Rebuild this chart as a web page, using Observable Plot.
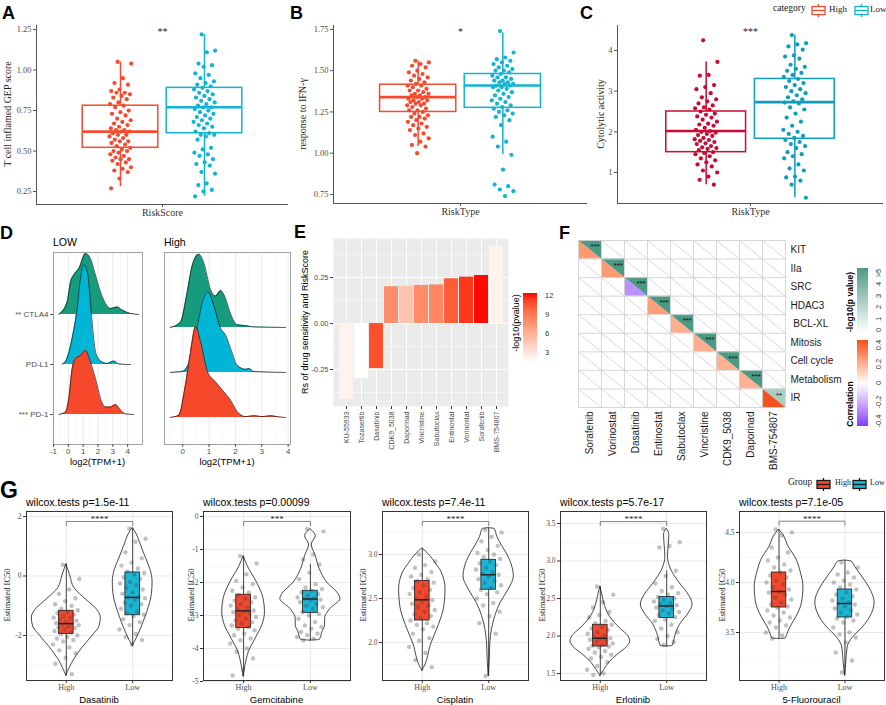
<!DOCTYPE html>
<html><head><meta charset="utf-8">
<script src="https://cdn.jsdelivr.net/npm/d3@7"></script>
<script src="https://cdn.jsdelivr.net/npm/@observablehq/plot@0.6"></script>
<style>
body{margin:0;background:#fff;}
#fig{position:relative;width:886px;height:705px;overflow:hidden;background:#fff;}
.t{position:absolute;white-space:nowrap;line-height:1;}
</style></head><body><div id="fig"></div>
<script>
const SERIF = "'Liberation Serif','Times New Roman',serif";
const SANS = "'Liberation Sans',Arial,Helvetica,sans-serif";

// ================= DATA =================
// Panels A–C : groups High / Low
const riskGroups = ["High", "Low"];
const gepHigh = [1.05,1.04,0.95,0.92,0.91,0.88,0.87,0.86,0.86,0.85,0.84,0.83,0.82,0.8,0.79,0.78,0.77,0.75,0.74,0.73,0.72,0.7,0.69,0.68,0.67,0.66,0.65,0.64,0.63,0.63,0.62,0.62,0.61,0.6,0.6,0.59,0.58,0.57,0.56,0.56,0.55,0.54,0.53,0.52,0.51,0.5,0.5,0.49,0.48,0.47,0.46,0.45,0.45,0.44,0.43,0.42,0.4,0.39,0.38,0.37,0.33,0.27];
const gepLow = [1.22,1.12,1.11,1.04,1.03,1.02,0.98,0.97,0.95,0.93,0.92,0.91,0.9,0.89,0.88,0.87,0.86,0.85,0.84,0.83,0.82,0.81,0.8,0.79,0.78,0.77,0.77,0.76,0.75,0.74,0.73,0.72,0.71,0.7,0.69,0.68,0.67,0.66,0.65,0.64,0.62,0.61,0.6,0.6,0.59,0.57,0.52,0.51,0.49,0.48,0.47,0.45,0.43,0.42,0.41,0.37,0.36,0.3,0.29,0.26,0.25,0.22];
const gepStats = [[0.28,0.52,0.62,0.78,1.05],[0.22,0.61,0.77,0.89,1.22]]; // lo,q1,med,q3,hi
const ifnHigh = [1.56,1.55,1.54,1.53,1.52,1.5,1.49,1.48,1.47,1.46,1.45,1.44,1.43,1.42,1.41,1.41,1.4,1.39,1.38,1.38,1.37,1.36,1.36,1.35,1.35,1.34,1.34,1.33,1.33,1.32,1.32,1.31,1.31,1.3,1.3,1.29,1.29,1.28,1.27,1.26,1.26,1.25,1.24,1.23,1.22,1.22,1.21,1.2,1.19,1.18,1.17,1.16,1.15,1.14,1.12,1.11,1.09,1.07,1.05,1.04,1.0];
const ifnLow = [1.74,1.61,1.58,1.57,1.56,1.55,1.54,1.53,1.52,1.51,1.5,1.5,1.49,1.48,1.47,1.46,1.46,1.45,1.44,1.44,1.43,1.43,1.42,1.42,1.41,1.41,1.4,1.4,1.39,1.38,1.37,1.36,1.35,1.34,1.33,1.32,1.31,1.3,1.29,1.28,1.27,1.26,1.25,1.24,1.23,1.22,1.2,1.17,1.1,1.07,1.04,0.99,0.9,0.81,0.8,0.78,0.77,0.74];
const ifnStats = [[1.04,1.25,1.34,1.415,1.56],[0.99,1.275,1.41,1.48,1.73]];
const cytHigh = [4.25,3.72,3.4,3.38,3.15,3.1,3.05,2.95,2.85,2.8,2.75,2.7,2.65,2.6,2.58,2.55,2.5,2.45,2.42,2.38,2.35,2.3,2.25,2.2,2.18,2.15,2.1,2.05,2.02,2.0,1.98,1.95,1.92,1.9,1.85,1.82,1.8,1.78,1.75,1.72,1.7,1.65,1.62,1.6,1.58,1.55,1.5,1.48,1.45,1.4,1.35,1.3,1.25,1.2,1.15,1.05,1.0,0.9,0.82,0.7];
const cytLow = [4.38,4.18,4.15,4.1,4.02,3.88,3.85,3.8,3.65,3.6,3.55,3.5,3.45,3.4,3.35,3.3,3.25,3.2,3.15,3.1,3.05,3.0,2.95,2.9,2.85,2.8,2.75,2.72,2.7,2.6,2.55,2.45,2.35,2.25,2.15,2.05,2.0,1.95,1.9,1.85,1.8,1.75,1.7,1.65,1.6,1.5,1.45,1.4,1.35,1.2,1.1,1.05,0.9,0.88,0.8,0.7,0.38];
const cytStats = [[0.7,1.5,2.02,2.5,3.72],[0.38,1.83,2.73,3.3,4.38]];
const gepTicks = [0.25,0.5,0.75,1,1.25];
const ifnTicks = [0.75,1,1.25,1.5,1.75];
const cytTicks = [1,2,3,4];

// Panel D : ridgelines  [log2(TPM+1), density]
const ridgeGenes = ["PD-1","PD-L1","CTLA4"];
const ridgeLabels = ["*** PD-1","PD-L1","** CTLA4"];
const lowCTLA4 = [[-0.64,0],[-0.08,0.25],[0.15,0.65],[0.37,0.79],[0.71,0.92],[1.16,1.22],[1.49,1.12],[1.83,0.79],[2.17,0.45],[2.51,0.22],[2.84,0.12],[3.29,0.15],[3.63,0.09],[4.19,0.02],[4.75,0]];
const lowPDL1 = [[-0.41,0],[-0.08,0.13],[0.26,0.53],[0.6,1.13],[0.82,1.73],[1.04,2.0],[1.31,1.8],[1.54,1.06],[1.83,0.26],[2.17,0.07],[2.62,0.02],[3.07,0.07],[3.4,0.01],[3.97,0],[4.2,0]];
const lowPD1 = [[-0.64,0],[-0.19,0.05],[0.03,0.32],[0.26,0.92],[0.48,1.12],[0.82,1.18],[1.16,1.28],[1.49,1.05],[1.83,0.72],[2.17,0.32],[2.51,0.15],[2.84,0.15],[3.18,0.2],[3.52,0.09],[3.85,0.01],[4.41,0]];
const highCTLA4 = [[-0.47,0],[-0.09,0.11],[0.17,0.78],[0.36,1.37],[0.61,1.63],[0.8,1.44],[1.06,0.84],[1.25,0.7],[1.44,0.82],[1.59,0.7],[1.82,0.3],[2.07,0.06],[2.39,0.04],[2.71,0.01],[3.9,0]];
const highPDL1 = [[-0.47,0],[-0.02,0.02],[0.3,0.31],[0.56,1.04],[0.75,1.57],[0.96,1.79],[1.18,1.49],[1.44,0.98],[1.63,0.83],[1.82,0.53],[2.07,0.16],[2.39,0.07],[2.51,0.09],[2.7,0.02],[3.9,0]];
const highPD1 = [[-0.47,0],[-0.15,0.05],[0.1,0.71],[0.3,1.46],[0.49,2.02],[0.68,1.68],[0.94,1.02],[1.25,0.79],[1.56,0.57],[1.82,0.38],[2.07,0.13],[2.39,0.02],[2.71,0.04],[3.02,0.02],[3.34,0.04],[3.66,0.01],[3.9,0]];
const ridgeTicksLow = [-1,0,1,2,3,4];
const ridgeTicksHigh = [0,1,2,3,4];

// Panel E : drug sensitivity correlation
const eDrugs = ["KU-55933","Tozasertib","Dasatinib","CDK9_5038","Daporinad","Vincristine","Sabutoclax","Entinostat","Vorinostat","Sorafenib","BMS-754807"];
const eRs = [-0.413,-0.30,-0.245,0.20,0.203,0.207,0.21,0.243,0.252,0.261,0.418];
const eLogP = [2.3,1.6,10.8,8.0,5.0,8.1,8.3,10.3,11.6,12.4,2.3];
const eTicks = [-0.25,0,0.25];
const eLegendTicks = [3,6,9,12];

// Panel F : pathway × drug
const fRows = ["KIT","IIa","SRC","HDAC3","\u00A0BCL-XL","Mitosis","Cell cycle","Metabolism","IR"];
const fCols = ["Sorafenib","Vorinostat","Dasatinib","Entinostat","Sabutoclax","Vincristine","CDK9_5038","Daporinad","BMS-754807"];
const fCor = [0.26,0.255,-0.245,0.245,0.21,0.205,0.2,0.2,0.418];
const fLogP = [5.5,5.5,5.5,5.5,5.5,5.5,5.5,5.5,2.4];
const fStars = ["***","***","***","***","***","***","***","***","**"];
const fPTicks = ["0","1","2","3","4",">5"];
const fCorTicks = [-0.4,-0.2,0,0.2,0.4];

// Panel G : estimated IC50
const icDrugs = ["Dasatinib","Gemcitabine","Cisplatin","Erlotinib","5-Fluorouracil"];
const icPvalues = ["1.5e-11","0.00099","7.4e-11","5.7e-17","7.1e-05"];
const icStars = ["****","***","****","****","****"];
const icBoxHigh = [[-3.35,-1.95,-1.6,-1.17,0.4],[-4.85,-3.38,-2.86,-2.37,-1.2],[1.68,2.25,2.485,2.7,3.07],[1.47,1.86,1.97,2.15,2.66],[3.44,3.75,3.91,4.1,4.53]];
const icBoxLow = [[-2.35,-1.32,-0.72,0.12,1.6],[-3.75,-2.92,-2.5,-2.25,-1.45],[1.62,2.6,2.77,2.94,3.3],[1.86,2.24,2.4,2.52,2.87],[3.07,3.65,3.79,3.93,4.22]];
const icVioHigh = [
  [[0.4,0],[0.2,0.03],[0,0.06],[-0.4,0.12],[-0.8,0.3],[-1.1,0.45],[-1.4,0.52],[-1.7,0.5],[-2.0,0.4],[-2.4,0.25],[-2.8,0.12],[-3.1,0.05],[-3.35,0]],
  [[-1.2,0],[-1.5,0.06],[-2.0,0.2],[-2.5,0.3],[-2.9,0.32],[-3.3,0.28],[-3.7,0.18],[-4.1,0.08],[-4.5,0.03],[-4.85,0]],
  [[3.07,0],[3.0,0.1],[2.9,0.2],[2.8,0.29],[2.6,0.35],[2.4,0.33],[2.2,0.25],[2.05,0.17],[1.95,0.12],[1.85,0.09],[1.75,0.05],[1.68,0]],
  [[2.66,0],[2.55,0.03],[2.4,0.07],[2.25,0.15],[2.1,0.3],[2.0,0.42],[1.93,0.45],[1.85,0.4],[1.75,0.26],[1.65,0.14],[1.55,0.06],[1.47,0]],
  [[4.53,0],[4.47,0.07],[4.35,0.15],[4.25,0.25],[4.1,0.33],[3.95,0.37],[3.8,0.35],[3.65,0.26],[3.55,0.17],[3.47,0.12],[3.44,0.1],[3.435,0]]
];
const icVioLow = [
  [[1.62,0],[1.4,0.06],[1.0,0.13],[0.6,0.2],[0.2,0.27],[-0.2,0.3],[-0.6,0.29],[-1.0,0.25],[-1.4,0.19],[-1.8,0.12],[-2.1,0.06],[-2.35,0]],
  [[-0.38,0],[-0.6,0.08],[-0.85,0.02],[-1.2,0.08],[-1.6,0.14],[-2.0,0.25],[-2.35,0.42],[-2.5,0.45],[-2.8,0.3],[-3.1,0.22],[-3.3,0.22],[-3.5,0.18],[-3.74,0.14],[-3.76,0]],
  [[3.3,0],[3.29,0.09],[3.2,0.13],[3.1,0.2],[3.0,0.28],[2.85,0.36],[2.75,0.38],[2.6,0.3],[2.45,0.18],[2.3,0.1],[2.15,0.05],[2.0,0.025],[1.8,0.015],[1.62,0]],
  [[3.43,0],[3.35,0.04],[3.2,0.03],[3.05,0.02],[2.9,0.06],[2.7,0.2],[2.55,0.33],[2.42,0.39],[2.3,0.33],[2.15,0.2],[2.0,0.13],[1.87,0.09],[1.86,0]],
  [[4.22,0],[4.21,0.1],[4.15,0.16],[4.05,0.27],[3.95,0.37],[3.8,0.45],[3.65,0.38],[3.55,0.27],[3.45,0.12],[3.35,0.04],[3.2,0.02],[3.07,0]]
];
const icPtsHigh = [
  [0.38,-0.1,-0.45,-0.6,-0.75,-0.85,-0.95,-1.0,-1.1,-1.15,-1.2,-1.25,-1.3,-1.35,-1.4,-1.42,-1.45,-1.5,-1.55,-1.58,-1.6,-1.62,-1.65,-1.7,-1.72,-1.75,-1.8,-1.85,-1.9,-1.95,-2.0,-2.05,-2.1,-2.15,-2.2,-2.3,-2.4,-2.5,-2.6,-2.75,-2.95,-3.3],
  [-1.2,-1.42,-1.75,-1.95,-2.05,-2.15,-2.25,-2.3,-2.38,-2.45,-2.5,-2.55,-2.6,-2.65,-2.7,-2.75,-2.8,-2.85,-2.87,-2.9,-2.95,-3.0,-3.05,-3.1,-3.15,-3.2,-3.25,-3.3,-3.35,-3.4,-3.45,-3.55,-3.6,-3.7,-3.75,-3.85,-4.0,-4.1,-4.3,-4.65,-4.82],
  [3.0,2.92,2.88,2.85,2.8,2.77,2.75,2.72,2.7,2.68,2.65,2.62,2.6,2.57,2.55,2.52,2.5,2.48,2.46,2.44,2.42,2.4,2.37,2.35,2.32,2.3,2.28,2.25,2.22,2.2,2.18,2.15,2.1,2.05,2.02,1.95,1.88,1.8,1.72],
  [2.66,2.55,2.45,2.38,2.32,2.28,2.25,2.2,2.17,2.15,2.12,2.1,2.08,2.05,2.03,2.0,1.99,1.97,1.96,1.95,1.93,1.92,1.9,1.88,1.87,1.86,1.85,1.83,1.8,1.78,1.75,1.72,1.7,1.65,1.6,1.55,1.5,1.48],
  [4.53,4.5,4.47,4.35,4.3,4.25,4.22,4.18,4.15,4.12,4.1,4.07,4.05,4.02,4.0,3.98,3.95,3.93,3.91,3.9,3.88,3.85,3.83,3.8,3.78,3.76,3.75,3.72,3.7,3.67,3.65,3.62,3.6,3.57,3.55,3.5,3.47,3.44]
];
const icPtsLow = [
  [1.6,1.25,1.15,0.8,0.6,0.45,0.35,0.25,0.15,0.1,0.05,-0.05,-0.1,-0.2,-0.25,-0.3,-0.4,-0.45,-0.55,-0.6,-0.7,-0.72,-0.75,-0.8,-0.9,-0.95,-1.0,-1.1,-1.2,-1.25,-1.3,-1.35,-1.45,-1.55,-1.65,-1.8,-1.95,-2.05,-2.15,-2.3],
  [-0.38,-0.45,-1.15,-1.3,-1.45,-1.7,-1.9,-2.05,-2.15,-2.2,-2.25,-2.3,-2.35,-2.4,-2.45,-2.48,-2.5,-2.52,-2.55,-2.6,-2.65,-2.7,-2.75,-2.8,-2.9,-2.95,-3.0,-3.1,-3.2,-3.3,-3.35,-3.4,-3.5,-3.55,-3.6,-3.65,-3.7,-3.75],
  [3.28,3.25,3.2,3.15,3.1,3.05,3.02,3.0,2.97,2.95,2.92,2.9,2.88,2.85,2.83,2.8,2.78,2.77,2.75,2.72,2.7,2.68,2.65,2.62,2.6,2.57,2.55,2.5,2.45,2.42,2.35,2.3,2.22,2.1,1.62],
  [3.43,3.25,3.2,3.18,2.87,2.8,2.7,2.65,2.6,2.57,2.55,2.52,2.5,2.48,2.46,2.44,2.42,2.41,2.4,2.38,2.36,2.34,2.32,2.3,2.28,2.25,2.22,2.2,2.15,2.1,2.05,2.0,1.96,1.92,1.88],
  [4.2,4.15,4.1,4.08,4.05,4.02,4.0,3.98,3.95,3.93,3.9,3.88,3.86,3.84,3.82,3.8,3.79,3.78,3.76,3.74,3.72,3.7,3.68,3.66,3.64,3.62,3.6,3.55,3.5,3.48,3.45,3.4,3.3,3.22,3.1]
];
const icBracket = [1.83,-0.15,3.375,3.526,4.613];
const icTicks = [[-2,0,2],[-5,-4,-3,-2,-1,0],[2,2.5,3],[1.5,2,2.5,3,3.5],[3.5,4,4.5]];
const icMinor = [[-3,-1,1],[-4.5,-3.5,-2.5,-1.5,-0.5],[1.75,2.25,2.75,3.25],[1.75,2.25,2.75,3.25],[3.25,3.75,4.25]];
const icYDomain = [[-3.513,2.168],[-4.97,0.152],[1.568,3.489],[1.407,3.66],[3.02,4.71]];

// ================= HELPERS =================
const fig = document.getElementById("fig");
function put(node, left, top){ node.style.position="absolute"; node.style.left=left+"px"; node.style.top=top+"px"; fig.appendChild(node); return node; }
function txt(s, x, y, o={}){
  const d=document.createElement("div"); d.className="t"; d.textContent=s;
  d.style.left=x+"px"; d.style.top=y+"px";
  d.style.fontSize=(o.size||10)+"px"; d.style.fontFamily=o.family||SANS;
  d.style.fontWeight=o.weight||"normal"; d.style.color=o.color||"#000";
  const ax=o.anchor==="start"?"0":o.anchor==="end"?"-100%":"-50%";
  d.style.transform=`translate(${ax},-50%)`+(o.rotate?` rotate(${o.rotate}deg)`:"");
  fig.appendChild(d); return d;
}
function icon(x, y, stroke, fill){
  const d=document.createElement("div"); d.style.position="absolute"; d.style.left=x+"px"; d.style.top=y+"px";
  d.innerHTML=`<svg width="15" height="13"><line x1="7.5" y1="0" x2="7.5" y2="13" stroke="${stroke}" stroke-width="1.3"/><rect x="1" y="2.5" width="13" height="8" fill="${fill}" stroke="${stroke}" stroke-width="1.3"/><line x1="1" y1="6.5" x2="14" y2="6.5" stroke="${stroke}" stroke-width="1.3"/></svg>`;
  fig.appendChild(d);
}
function jit(i){ return ((i*0.6180339887+0.37)%1)*2-1; }
const baseStyle = (family)=>({fontFamily:family, background:"transparent", overflow:"visible"});

// ================= A–C =================
function boxPanel(c){
  const marks=[Plot.ruleX([0],{stroke:"#555",strokeWidth:1}), Plot.ruleY([c.ydom[0]],{stroke:"#555",strokeWidth:1})];
  c.groups.forEach((g,gi)=>{
    const cx=gi+1;
    const s=[{lo:g.stats[0],q1:g.stats[1],med:g.stats[2],q3:g.stats[3],hi:g.stats[4]}];
    marks.push(
      Plot.ruleX(s,{x:()=>cx,y1:"lo",y2:"q1",stroke:g.color,strokeWidth:1.5}),
      Plot.ruleX(s,{x:()=>cx,y1:"q3",y2:"hi",stroke:g.color,strokeWidth:1.5}),
      Plot.rect(s,{x1:()=>cx-0.45,x2:()=>cx+0.45,y1:"q1",y2:"q3",fill:"white",stroke:g.color,strokeWidth:1.5}),
      Plot.ruleY(s,{y:"med",x1:()=>cx-0.45,x2:()=>cx+0.45,stroke:g.color,strokeWidth:2.6}),
      Plot.dot(g.values,{x:(d,i)=>cx+jit(i)*0.13,y:d=>d,r:2.1,fill:g.color})
    );
  });
  marks.push(Plot.text([c.star],{x:()=>1.5,y:()=>c.starY,text:d=>d,fontSize:10,fill:"#222"}));
  marks.push(Plot.axisY({ticks:c.yticks,tickFormat:c.yfmt,tickSize:3,tickPadding:2,fontSize:8.5,fill:"#4D4D4D",stroke:"#555",label:null}));
  marks.push(Plot.axisX({ticks:[1.5],tickFormat:()=>c.xlab,tickSize:3,tickPadding:1,fontSize:10,fill:"#333",stroke:"#555",label:null}));
  const svg=Plot.plot({width:c.width,height:222,marginLeft:c.ml,marginRight:c.mr,marginTop:25,marginBottom:c.mb,
    x:{domain:[0,3]},y:{domain:c.ydom},style:baseStyle(SERIF),marks});
  put(svg,c.left,0);
  txt(c.ytitle,c.ytx,114,{family:SERIF,size:10,rotate:-90,color:"#222"});
}
const colA=["#F44B30","#12B4D4"], colC=["#CB0A33","#0E9DBE"];
boxPanel({left:0,width:290,ml:36,mr:2,mb:18,ydom:[0.17,1.275],yticks:gepTicks,yfmt:d=>d.toFixed(2),xlab:"RiskScore",
  star:"**",starY:1.238,ytitle:"T cell inflamed GEP score",ytx:8,
  groups:[{values:gepHigh,stats:gepStats[0],color:colA[0]},{values:gepLow,stats:gepStats[1],color:colA[1]}]});
boxPanel({left:297,width:290,ml:36,mr:0,mb:19,ydom:[0.695,1.774],yticks:ifnTicks,yfmt:d=>d.toFixed(2),xlab:"RiskType",
  star:"*",starY:1.738,ytitle:"response to IFN-γ",ytx:303,
  groups:[{values:ifnHigh,stats:ifnStats[0],color:colA[0]},{values:ifnLow,stats:ifnStats[1],color:colA[1]}]});
boxPanel({left:580,width:306,ml:37,mr:3,mb:19,ydom:[0.238,4.615],yticks:cytTicks,yfmt:d=>String(d),xlab:"RiskType",
  star:"***",starY:4.47,ytitle:"Cytolytic activity",ytx:601,
  groups:[{values:cytHigh,stats:cytStats[0],color:colC[0]},{values:cytLow,stats:cytStats[1],color:colC[1]}]});
txt("category",773,9,{family:SERIF,size:9.5,anchor:"start",color:"#222"});
icon(811,3,colA[0],"white"); txt(riskGroups[0],829,9,{family:SERIF,size:9,anchor:"start",color:"#222"});
icon(854,3,colA[1],"white"); txt(riskGroups[1],870,9,{family:SERIF,size:9,anchor:"start",color:"#222"});

// ================= D =================
const ridgeColors = {"CTLA4":"#169C7D","PD-L1":"#00B5D6","PD-1":"#F6492C"};
function ridgePanel(c){
  const minor=c.xticks.slice(0,-1).map(t=>t+0.5).concat(c.xticks[0]-0.5>=c.xdom[0]?[c.xticks[0]-0.5]:[]);
  const marks=[Plot.ruleX(minor,{stroke:"#EFEFEF",strokeWidth:0.5}),Plot.ruleX(c.xticks,{stroke:"#E3E3E3",strokeWidth:0.7})];
  c.rows.forEach(r=>{
    const pts=r.pts.map(p=>({x:p[0],d:p[1]}));
    marks.push(Plot.areaY(pts,{x:"x",y1:()=>r.base,y2:p=>r.base+p.d,fill:ridgeColors[r.gene],curve:"monotone-x"}));
    marks.push(Plot.lineY(pts,{x:"x",y:p=>r.base+p.d,stroke:"#1A1A1A",strokeWidth:0.7,curve:"monotone-x"}));
  });
  marks.push(Plot.frame({stroke:"#8A8A8A",strokeWidth:0.8}));
  marks.push(Plot.axisX({ticks:c.xticks,tickFormat:d=>String(d),tickSize:3,tickPadding:1,fontSize:8,fill:"#4D4D4D",stroke:"#4D4D4D",label:null}));
  if(c.ylab) marks.push(Plot.axisY({ticks:[1,2,3],tickFormat:d=>ridgeLabels[d-1],tickSize:3,tickPadding:2,fontSize:8,fill:"#4D4D4D",stroke:"#4D4D4D",label:null}));
  const svg=Plot.plot({width:c.width,height:236,marginLeft:c.ml,marginRight:c.mr,marginTop:22,marginBottom:22,
    x:{domain:c.xdom},y:{domain:c.ydom,axis:c.ylab?undefined:null},style:baseStyle(SANS),marks});
  put(svg,c.left,230);
}
ridgePanel({left:0,width:145,ml:53,mr:3,xdom:[-1,5],ydom:[0.4,4.24],xticks:ridgeTicksLow,ylab:true,
  rows:[{gene:"CTLA4",base:3,pts:lowCTLA4},{gene:"PD-L1",base:2,pts:lowPDL1},{gene:"PD-1",base:1,pts:lowPD1}]});
ridgePanel({left:160,width:133,ml:4,mr:3,xdom:[-0.69,4.09],ydom:[0.4,4.667],xticks:ridgeTicksHigh,ylab:false,
  rows:[{gene:"CTLA4",base:3,pts:highCTLA4},{gene:"PD-L1",base:2,pts:highPDL1},{gene:"PD-1",base:1,pts:highPD1}]});
txt("LOW",53,242,{size:10.5,anchor:"start"});
txt("High",164,242,{size:10.5,anchor:"start"});
txt("log2(TPM+1)",97.5,462,{size:9.5});
txt("log2(TPM+1)",227,462,{size:9.5});

// ================= E =================
const eColor = {type:"linear",domain:[1.58,12.47],range:["#FFFFFF","#FF0000"],interpolate:"lab"};
{
  const data=eDrugs.map((d,i)=>({drug:d,rs:eRs[i],nlp:eLogP[i]}));
  const svg=Plot.plot({width:220,height:236,marginLeft:43,marginRight:2,marginTop:10,marginBottom:58,
    x:{domain:eDrugs,paddingInner:0.1,paddingOuter:0.15},y:{domain:[-0.451,0.462]},color:eColor,
    style:baseStyle(SANS),
    marks:[
      Plot.frame({fill:"#EBEBEB",stroke:null}),
      Plot.ruleY([-0.375,-0.125,0.125,0.375],{stroke:"white",strokeWidth:0.5}),
      Plot.ruleY(eTicks,{stroke:"white",strokeWidth:1}),
      Plot.gridX({stroke:"white",strokeOpacity:1,strokeWidth:1}),
      Plot.barY(data,{x:"drug",y:"rs",fill:"nlp"}),
      Plot.axisY({ticks:eTicks,tickFormat:d=>d.toFixed(2),tickSize:3,tickPadding:2,fontSize:7.5,fill:"#4D4D4D",stroke:"#333",label:null}),
      Plot.axisX({tickRotate:-90,tickSize:3,tickPadding:2,fontSize:7,fill:"#4D4D4D",stroke:"#333",label:null})
    ]});
  put(svg,290,228);
  txt("Rs of drug sensitivity and RiskScore",305,322,{size:9,rotate:-90});
  const sc=Plot.scale({color:eColor});
  const stops=d3.range(0,11).map(k=>sc.apply(12.47-k*(12.47-1.58)/10)).join(",");
  const bar=document.createElement("div"); bar.style.cssText=`position:absolute;left:523px;top:293px;width:14px;height:69px;background:linear-gradient(${stops});`;
  fig.appendChild(bar);
  eLegendTicks.forEach(v=>txt(String(v),545,362-(v-1.58)/(12.47-1.58)*69,{size:7.5,anchor:"start",color:"#333"}));
  txt("-log10(pvalue)",516,323,{size:9,rotate:-90});
}

// ================= F =================
const corrColor = {type:"linear",domain:[-0.42,0,0.42],range:["#7F3FFF","#FFFFFF","#F4511E"],interpolate:"lab",clamp:true};
const pColor = {type:"linear",domain:[0,5],range:["#FFFFFF","#4A9A85"],interpolate:"lab",clamp:true};
{
  const cs=Plot.scale({color:corrColor}), ps=Plot.scale({color:pColor});
  const cells=[]; fRows.forEach((r,ri)=>fCols.forEach((c,ci)=>cells.push({r:ri,c:ci})));
  const tris=[];
  fCols.forEach((c,i)=>{
    const up=ps.apply(fLogP[i]), lo=cs.apply(fCor[i]);
    tris.push({id:"u"+i,x:i,y1:i,y2:i,col:up},{id:"u"+i,x:i+1,y1:i,y2:i+1,col:up});
    tris.push({id:"l"+i,x:i,y1:i,y2:i+1,col:lo},{id:"l"+i,x:i+1,y1:i+1,y2:i+1,col:lo});
  });
  const stars=fCols.map((c,i)=>({x:i+0.72,y:i+0.33,s:fStars[i]}));
  const lines=d3.range(10);
  const centers=d3.range(9).map(i=>i+0.5);
  const svg=Plot.plot({width:300,height:245,marginLeft:38,marginRight:55,marginTop:12,marginBottom:66,
    x:{domain:[0,9]},y:{domain:[9,0]},color:{type:"identity"},style:baseStyle(SANS),
    marks:[
      Plot.link(cells,{x1:"c",y1:"r",x2:d=>d.c+1,y2:d=>d.r+1,stroke:"#C9C9C9",strokeWidth:0.7}),
      Plot.areaY(tris,{x:"x",y1:"y1",y2:"y2",z:"id",fill:"col",curve:"linear"}),
      Plot.ruleX(lines,{stroke:"#D3D3D3",strokeWidth:0.9}),
      Plot.ruleY(lines,{stroke:"#D3D3D3",strokeWidth:0.9}),
      Plot.text(stars,{x:"x",y:"y",text:"s",fontSize:8,fill:"#111"}),
      Plot.axisY({anchor:"right",ticks:centers,tickFormat:d=>fRows[Math.floor(d)],tickSize:0,tickPadding:5,fontSize:10,fill:"#1A1A1A",label:null}),
      Plot.axisX({ticks:centers,tickFormat:d=>fCols[Math.floor(d)],tickRotate:-90,tickSize:0,tickPadding:4,fontSize:10,fill:"#1A1A1A",label:null})
    ]});
  put(svg,540,228);
  // p-value legend
  const pstops=d3.range(0,11).map(k=>ps.apply(5-k*0.5)).join(",");
  const pb=document.createElement("div"); pb.style.cssText=`position:absolute;left:857px;top:268px;width:11px;height:64px;background:linear-gradient(${pstops});`;
  fig.appendChild(pb);
  fPTicks.forEach((t,i)=>txt(t,879,330-i*11.4,{size:7.5,rotate:-90,color:"#333"}));
  txt("-log10(p value)",850,302,{size:8.5,weight:"bold",rotate:-90});
  // correlation legend
  const cstops=d3.range(0,11).map(k=>cs.apply(0.44-k*0.086)).join(",");
  const cb=document.createElement("div"); cb.style.cssText=`position:absolute;left:857px;top:340px;width:11px;height:86px;background:linear-gradient(${cstops});`;
  fig.appendChild(cb);
  fCorTicks.forEach(t=>txt(t===0?"0":t.toFixed(1),879,383-t*96,{size:7.5,rotate:-90,color:"#333"}));
  txt("Correlation",850,404,{size:8.5,weight:"bold",rotate:-90});
}

// ================= G =================
const icColors=["#F4472B","#1AB6D6"];
const icFrameL=[26,203,382,560,739], icFrameR=[172,350,528,706,884];
const icYTitleX=[7,191,363,542,722];
function violinPanel(k){
  const fl=icFrameL[k], fr=icFrameR[k], ml=24, mr=2, mt=6, mb=25, height=200;
  const ydom=icYDomain[k];
  const pxPer=(height-mt-mb)/(ydom[1]-ydom[0]);
  const groups=[{c:1,color:icColors[0],stats:icBoxHigh[k],vio:icVioHigh[k],pts:icPtsHigh[k]},
                {c:2,color:icColors[1],stats:icBoxLow[k],vio:icVioLow[k],pts:icPtsLow[k]}];
  const marks=[
    Plot.ruleY(icMinor[k],{stroke:"#F2F2F2",strokeWidth:0.6}),
    Plot.ruleY(icTicks[k],{stroke:"#E5E5E5",strokeWidth:0.9}),
    Plot.ruleX([1,2],{stroke:"#E5E5E5",strokeWidth:0.9})
  ];
  groups.forEach(g=>{
    const v=g.vio.map(p=>({v:p[0],w:p[1]})).sort((a,b)=>a.v-b.v);
    const s=[{lo:g.stats[0],q1:g.stats[1],med:g.stats[2],q3:g.stats[3],hi:g.stats[4]}];
    marks.push(
      Plot.areaX(v,{y:"v",x1:d=>g.c-d.w,x2:d=>g.c+d.w,fill:"none",stroke:"#1A1A1A",strokeWidth:0.8,curve:"monotone-y"}),
      Plot.ruleX(s,{x:()=>g.c,y1:"lo",y2:"hi",stroke:"#1A1A1A",strokeWidth:0.8}),
      Plot.rect(s,{x1:()=>g.c-0.11,x2:()=>g.c+0.11,y1:"q1",y2:"q3",fill:g.color,stroke:"#1A1A1A",strokeWidth:0.8}),
      Plot.ruleY(s,{y:"med",x1:()=>g.c-0.11,x2:()=>g.c+0.11,stroke:"#1A1A1A",strokeWidth:1.4}),
      Plot.dot(g.pts,{x:(d,i)=>g.c+jit(i)*0.2,y:d=>d,r:2.2,fill:"#444",fillOpacity:0.33})
    );
  });
  const by=icBracket[k], drop=4/pxPer;
  marks.push(Plot.line([[1,by-drop],[1,by],[2,by],[2,by-drop]],{x:d=>d[0],y:d=>d[1],stroke:"#555",strokeWidth:0.7}));
  marks.push(Plot.text([icStars[k]],{x:()=>1.5,y:()=>by,dy:-2,text:d=>d,fontSize:9,fill:"#222"}));
  marks.push(Plot.frame({stroke:"#333",strokeWidth:1}));
  const fmt = k<2 ? (d=>String(d)) : (d=>d.toFixed(1));
  marks.push(Plot.axisY({ticks:icTicks[k],tickFormat:fmt,tickSize:3,tickPadding:2,fontSize:7.5,fill:"#4D4D4D",stroke:"#333",label:null}));
  marks.push(Plot.axisX({ticks:[1,2],tickFormat:d=>riskGroups[d-1],tickSize:3,tickPadding:1,fontSize:8,fill:"#4D4D4D",stroke:"#333",label:null}));
  const svg=Plot.plot({width:fr-fl+ml+mr,height,marginLeft:ml,marginRight:mr,marginTop:mt,marginBottom:mb,
    x:{domain:[0.4,2.6]},y:{domain:ydom},style:baseStyle(SERIF),marks});
  put(svg,fl-ml,505);
  txt("wilcox.tests p="+icPvalues[k],fl,502,{size:10.5,anchor:"start"});
  txt(icDrugs[k],(fl+fr)/2,700,{size:9.5});
  txt("Estimated IC50",icYTitleX[k],595,{family:SERIF,size:8.5,rotate:-90,color:"#222"});
}
for(let k=0;k<5;k++) violinPanel(k);
txt("Group",788,483,{family:SERIF,size:9.5,anchor:"start",color:"#222"});
icon(816,477,"#1A1A1A",icColors[0]); txt(riskGroups[0],835,483,{family:SERIF,size:8,anchor:"start",color:"#222"});
icon(852,477,"#1A1A1A",icColors[1]); txt(riskGroups[1],870,483,{family:SERIF,size:8,anchor:"start",color:"#222"});

// ================= LETTERS =================
[["A",2,13],["B",290,13],["C",580,13],["D",0,233],["E",294,232],["F",559,233]].forEach(([l,x,y])=>txt(l,x,y,{size:18,weight:"bold",anchor:"start"}));
txt("G",0,490,{size:23,weight:"bold",anchor:"start"});
</script></body></html>
